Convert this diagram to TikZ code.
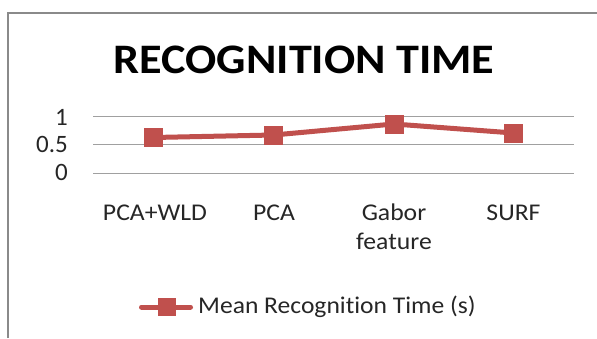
\documentclass[tikz,border=0pt]{standalone}
\usepackage{fontspec}
\setmainfont{Carlito}[Ligatures={NoCommon}]
\usepackage{xcolor}
\usepackage{tikz}
\usetikzlibrary{positioning}

\definecolor{seriesred}{HTML}{C0504D}
\definecolor{framegray}{HTML}{8A8A8A}
\definecolor{gridgray}{HTML}{A0A0A0}
\definecolor{labelgray}{HTML}{262626}

\newcommand{\wider}[2][1.07]{\scalebox{#1}[1]{#2}}

\tikzset{
  gridline/.style={draw=gridgray, line width=1pt},
  datamark/.style={rectangle, fill=seriesred, minimum size=19pt, inner sep=0pt},
  catlabel/.style={anchor=base, align=center, inner sep=0pt, text=labelgray, font=\fontsize{24}{29}\selectfont},
  ticklabel/.style={anchor=base east, inner sep=0pt, text=labelgray, font=\fontsize{25}{28}\selectfont}
}

\begin{document}
\begin{tikzpicture}[x=1pt, y=-1pt]
  \useasboundingbox (0,0) rectangle (597,338);
  \draw[framegray, line width=2.5pt] (8,338) -- (8,13) -- (597,13);

  \node[anchor=base, inner sep=0pt, font=\fontsize{42}{46}\selectfont\bfseries] (title) at (304,73) {\wider[1.1]{RECOGNITION TIME}};

  % grid and value axis
  \draw[gridline] (93,116) -- (574,116);
  \draw[gridline] (93,144.5) -- (574,144.5);
  \draw[gridline] (93,173.3) -- (574,173.3);
  \node[ticklabel] (tick1)  at (68,125) {1};
  \node[ticklabel] (tick05) at (68,152) {0.5};
  \node[ticklabel] (tick0)  at (68,180) {0};

  % categories
  \node[catlabel] (pcawld) at (155,220) {\wider{PCA+WLD}};
  \node[catlabel] (pca)    at (274,220) {\wider{PCA}};
  \node[catlabel] (gabor)  at (394,249) {\wider{Gabor}\\\wider{feature}};
  \node[catlabel] (surf)   at (513.5,220) {\wider{SURF}};

  % series
  \coordinate (v1) at (153.5,137.5);
  \coordinate (v2) at (273.5,135);
  \coordinate (v3) at (394,124);
  \coordinate (v4) at (513.5,133);
  \draw[seriesred, line width=5pt, line join=round] (v1) -- (v2) -- (v3) -- (v4);
  \node[datamark] (m1) at (v1) {};
  \node[datamark] (m2) at (v2) {};
  \node[datamark] (m3) at (v3) {};
  \node[datamark] (m4) at (v4) {};

  % legend
  \coordinate (leftend) at (141.5,307);
  \coordinate (rightend) at (190.5,307);
  \draw[seriesred, line width=5pt, line cap=round] (leftend) -- (rightend);
  \node[datamark, minimum size=18pt] (legmark) at (167,306.5) {};
  \node[anchor=base west, inner sep=0pt, text=labelgray, font=\fontsize{24}{28}\selectfont] (legtext) at (198,313) {\wider[1.065]{Mean Recognition Time (s)}};
\end{tikzpicture}
\end{document}
